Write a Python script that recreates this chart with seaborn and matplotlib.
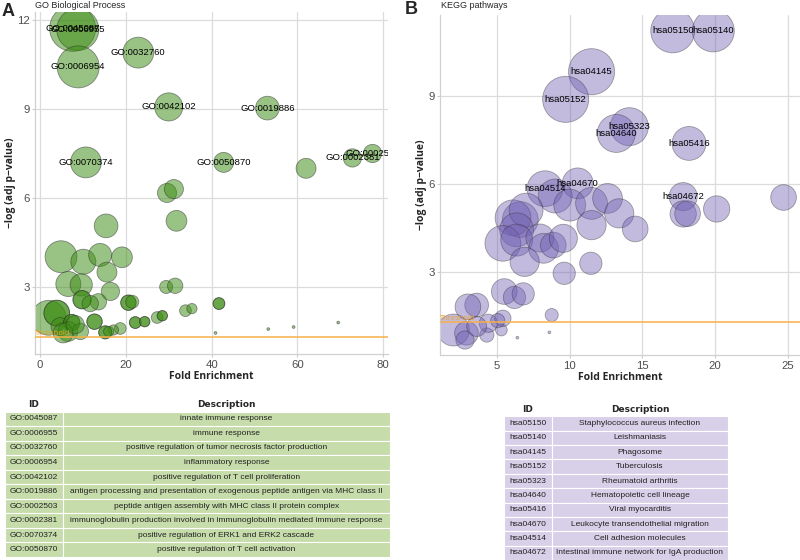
import numpy as np
import pandas as pd
import matplotlib.pyplot as plt
import seaborn as sns

# GO Biological Process: fold enrichment, -log10(adj p), gene count, label
go_x = [7.6, 8.8, 8.9, 22.9, 30.0, 53.0, 10.7, 42.8, 72.8, 77.5,
        62.0, 29.6, 31.2, 31.8, 15.4, 4.9, 10.1, 14.0, 19.1, 15.6,
        6.6, 9.6, 16.4, 29.4, 31.5, 9.8, 9.8, 13.6, 11.7, 20.6,
        20.6, 21.5, 41.7, 41.7, 33.9, 35.4, 27.3, 28.5, 28.5, 22.2,
        22.2, 24.4, 24.4, 12.7, 12.7, 18.7, 17.1, 15.2, 15.2, 16.0,
        2.0, 3.9, 3.9, 4.7, 7.4, 7.4, 6.5, 9.4, 5.4, 8.2,
        40.9, 53.2, 59.1, 69.5]
go_y = [11.72, 11.68, 10.42, 10.9, 9.07, 9.03, 7.2, 7.2, 7.35, 7.5,
        7.0, 6.17, 6.3, 5.23, 5.06, 4.02, 3.85, 4.08, 4.0, 3.5,
        3.1, 3.07, 2.85, 3.0, 3.04, 2.57, 2.57, 2.5, 2.44, 2.47,
        2.47, 2.5, 2.44, 2.44, 2.2, 2.27, 1.97, 2.03, 2.03, 1.8,
        1.8, 1.83, 1.83, 1.83, 1.83, 1.6, 1.55, 1.47, 1.47, 1.5,
        1.96, 2.12, 2.12, 1.66, 1.8, 1.8, 1.5, 1.5, 1.45, 1.73,
        1.45, 1.58, 1.65, 1.8]
go_n = [66, 55, 55, 30, 25, 18, 30, 13, 11, 11,
        13, 12, 12, 14, 18, 32, 20, 17, 14, 13,
        20, 16, 11, 6, 8, 11, 11, 9, 9, 8,
        8, 6, 5, 5, 5, 4, 5, 4, 4, 5,
        5, 4, 4, 8, 8, 5, 4, 6, 6, 4,
        38, 21, 21, 11, 9, 9, 13, 9, 13, 11,
        1, 1, 1, 1]
go_lab = ['GO:0045087', 'GO:0006955', 'GO:0006954', 'GO:0032760', 'GO:0042102',
          'GO:0019886', 'GO:0070374', 'GO:0050870', 'GO:0002381', 'GO:0002503']

# KEGG pathways
kegg_x = [17.08, 19.87, 11.5, 9.72, 14.1, 13.2, 18.2, 10.55, 8.3, 17.8,
          9.0, 10.0, 11.5, 12.6, 13.4, 11.5, 14.5, 17.8, 18.1, 20.1,
          24.7, 6.6, 6.1, 7.0, 6.35, 5.4, 6.35, 7.95, 8.2, 8.87,
          9.56, 6.9, 11.45, 9.62, 5.5, 6.2, 6.8, 3.6, 3.0, 8.76,
          2.0, 2.9, 2.8, 4.3, 4.4, 3.6, 5.3, 5.4, 5.05, 6.4, 8.6]
kegg_y = [11.22, 11.22, 9.83, 8.89, 7.96, 7.73, 7.39, 6.03, 5.85, 5.58,
          5.6, 5.29, 5.35, 5.52, 5.01, 4.61, 4.48, 4.99, 5.0, 5.16,
          5.55, 4.8, 4.86, 5.12, 4.45, 3.99, 4.1, 4.17, 3.82, 3.93,
          4.16, 3.36, 3.31, 2.97, 2.35, 2.15, 2.27, 1.89, 1.83, 1.55,
          1.04, 0.93, 0.7, 0.87, 1.27, 1.16, 1.04, 1.44, 1.36, 0.78, 0.96]
kegg_n = [60, 55, 66, 66, 45, 45, 36, 30, 40, 25,
          36, 32, 32, 28, 27, 27, 21, 22, 21, 22,
          21, 40, 40, 36, 36, 40, 32, 25, 28, 21,
          25, 27, 16, 16, 21, 16, 16, 18, 21, 6,
          32, 18, 11, 7, 11, 13, 5, 9, 7, 1, 1]
kegg_lab = ['hsa05150', 'hsa05140', 'hsa04145', 'hsa05152', 'hsa05323',
            'hsa04640', 'hsa05416', 'hsa04670', 'hsa04514', 'hsa04672']

go_desc = ['innate immune response', 'immune response',
           'positive regulation of tumor necrosis factor production',
           'inflammatory response', 'positive regulation of T cell proliferation',
           'antigen processing and presentation of exogenous peptide antigen via MHC class II',
           'peptide antigen assembly with MHC class II protein complex',
           'immunoglobulin production involved in immunoglobulin mediated immune response',
           'positive regulation of ERK1 and ERK2 cascade',
           'positive regulation of T cell activation']
go_table_ids = ['GO:0045087', 'GO:0006955', 'GO:0032760', 'GO:0006954', 'GO:0042102',
                'GO:0019886', 'GO:0002503', 'GO:0002381', 'GO:0070374', 'GO:0050870']
kegg_desc = ['Staphylococcus aureus infection', 'Leishmaniasis', 'Phagosome',
             'Tuberculosis', 'Rheumatoid arthritis', 'Hematopoietic cell lineage',
             'Viral myocarditis', 'Leukocyte transendothelial migration',
             'Cell adhesion molecules', 'Intestinal immune network for IgA production']

threshold = -np.log10(0.05)

sns.set_style("whitegrid")
plt.rcParams['font.family'] = ['Liberation Sans', 'DejaVu Sans']

fig = plt.figure(figsize=(8, 5.6), dpi=100)


def bubble_panel(rect, xs, ys, ns, labels, color, alpha, xlim, ylim, xticks, yticks):
    ax = fig.add_axes(rect)
    df = pd.DataFrame({'fe': xs, 'logp': ys, 'n': ns})
    df['label'] = labels + [''] * (len(df) - len(labels))
    sns.scatterplot(data=df, x='fe', y='logp', size='n', sizes=(4, 1102),
                    size_norm=(1, 66), color=color, alpha=alpha,
                    edgecolor='#303030', linewidth=0.6, legend=False, ax=ax)
    for _, r in df[df['label'] != ''].iterrows():
        ax.text(r['fe'], r['logp'], r['label'], ha='center', va='center',
                fontsize=6.8, color='black', clip_on=True)
    ax.axhline(threshold, color='#f7b048', lw=1.1, zorder=3)
    ax.text(xlim[0], threshold, 'Threshold', color='#f0a020', fontsize=5.5,
            ha='left', va='bottom', family=['Open Sans', 'DejaVu Sans'])
    ax.set_xlim(xlim)
    ax.set_ylim(ylim)
    ax.set_xticks(xticks)
    ax.set_yticks(yticks)
    ax.grid(True, color='#dcdcdc', lw=0.9)
    for s in ['top', 'right']:
        ax.spines[s].set_visible(False)
    for s in ['left', 'bottom']:
        ax.spines[s].set_color('#d0d0d0')
        ax.spines[s].set_linewidth(0.9)
    ax.tick_params(labelsize=8.2, colors='#4d4d4d', length=2.5, width=0.8,
                   color='#cccccc', pad=1.5, left=True, bottom=True)
    ax.set_xlabel('Fold Enrichment', fontsize=7.5, fontweight='bold',
                  family=['Open Sans', 'DejaVu Sans'], labelpad=1)
    ax.set_ylabel('\u2212log (adj p\u2212value)', fontsize=7.5, fontweight='bold',
                  family=['Open Sans', 'DejaVu Sans'], labelpad=0.5)
    return ax


bubble_panel([35 / 800, 1 - 354 / 560, 353 / 800, 342 / 560],
             go_x, go_y, go_n, go_lab, '#3c8c14', 0.52,
             (-1.17, 81.1), (0.74, 12.27), [0, 20, 40, 60, 80], [3, 6, 9, 12])
bubble_panel([440 / 800, 1 - 355 / 560, 360 / 800, 340 / 560],
             kegg_x, kegg_y, kegg_n, kegg_lab, '#6f5db1', 0.42,
             (1.08, 25.83), (0.19, 11.76), [5, 10, 15, 20, 25], [3, 6, 9])

fig.text(2 / 800, 1 - 11 / 560, 'A', fontsize=13, fontweight='bold', va='center')
fig.text(405 / 800, 1 - 10 / 560, 'B', fontsize=13, fontweight='bold', va='center')
fig.text(35 / 800, 1 - 6 / 560, 'GO Biological Process', fontsize=6.5, va='center')
fig.text(441 / 800, 1 - 6 / 560, 'KEGG pathways', fontsize=6.5, va='center')


def term_table(rect, ids, descs, fill, id_frac):
    ax = fig.add_axes(rect)
    ax.axis('off')
    tab = ax.table(cellText=[[i, d] for i, d in zip(ids, descs)],
                   colLabels=['ID', 'Description'], colWidths=[id_frac, 1 - id_frac],
                   cellLoc='center', bbox=[0, 0, 1, 1])
    tab.auto_set_font_size(False)
    tab.set_fontsize(6)
    for (r, c), cell in tab.get_celld().items():
        if r == 0:
            cell.set_facecolor('none')
            cell.set_edgecolor('none')
            cell.get_text().set_fontweight('bold')
            cell.get_text().set_fontfamily(['Liberation Sans Narrow', 'DejaVu Sans'])
            cell.get_text().set_fontsize(6.5)
        else:
            cell.set_facecolor(fill)
            cell.set_edgecolor('white')
            cell.set_linewidth(0.8)
            cell.get_text().set_color('#222222')
    return ax


term_table([5 / 800, 1 - 557 / 560, 385 / 800, 160 / 560],
           go_table_ids, go_desc, '#c6dcaa', 0.15)
term_table([504 / 800, 0, 224 / 800, 158 / 560],
           kegg_lab, kegg_desc, '#d8d0e8', 0.214)

fig.savefig('out.png', dpi=100)
